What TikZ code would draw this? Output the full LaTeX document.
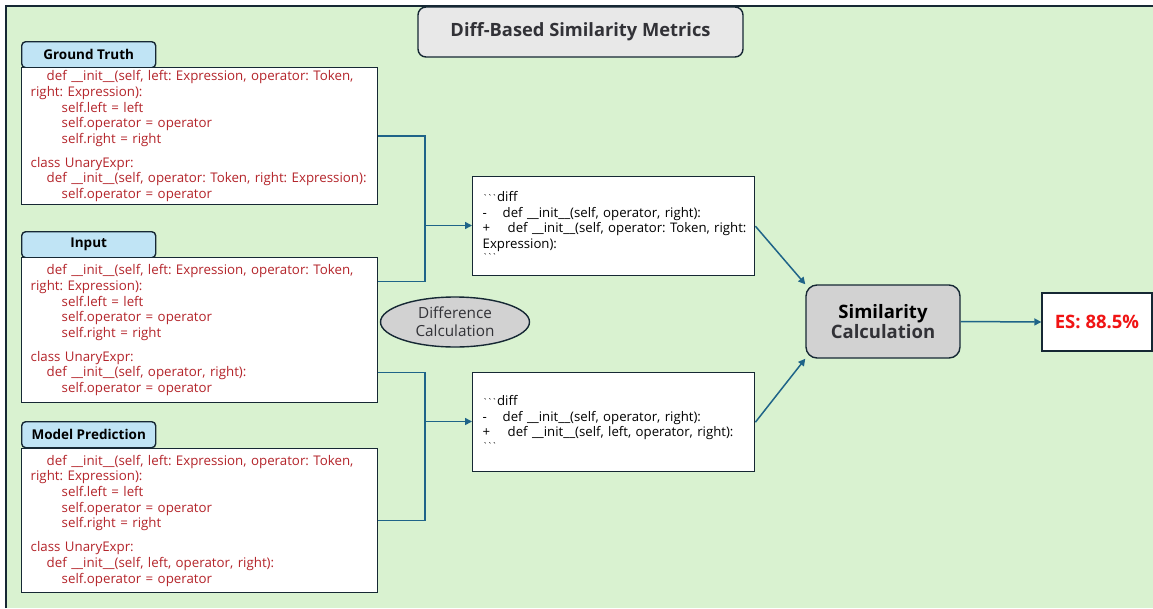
\documentclass[tikz,border=0pt]{standalone}
\usepackage{fontspec}
\setmainfont{Open Sans}
\usetikzlibrary{shapes.geometric,arrows.meta,calc}

\definecolor{bggreen}{RGB}{217,242,208}
\definecolor{edgedark}{RGB}{22,40,52}
\definecolor{tabblue}{RGB}{192,228,245}
\definecolor{codered}{RGB}{180,36,42}
\definecolor{linkblue}{RGB}{31,100,136}
\definecolor{titlegray}{RGB}{232,232,232}
\definecolor{procgray}{RGB}{210,210,210}
\definecolor{darktext}{RGB}{50,50,55}
\definecolor{esred}{RGB}{240,20,20}

\newcommand{\us}{\_\_}
\newcommand{\bt}{{\fontsize{9}{10}\selectfont\textasciigrave\kern-0.6pt\textasciigrave\kern-0.6pt\textasciigrave}}
\frenchspacing

\begin{document}
\begin{tikzpicture}[x=1pt,y=-1pt,
  frameline/.style={draw=edgedark,line width=1.4pt},
  titlebox/.style={draw=edgedark,line width=1.4pt,fill=titlegray,rounded corners=8pt,
    minimum width=325pt,minimum height=50pt,inner sep=0pt,
    font=\fontsize{18.3}{20}\selectfont\bfseries,text=darktext},
  tabbox/.style={draw=edgedark,line width=1.4pt,fill=tabblue,rounded corners=4pt,
    minimum width=134pt,minimum height=26pt,inner sep=0pt,anchor=north west,
    font=\fontsize{13.5}{15}\selectfont\bfseries,text=black},
  codebox/.style={draw=edgedark,line width=1.4pt,fill=white,anchor=north west,
    minimum width=356pt,inner xsep=9pt,inner ysep=0pt,text width=338pt,align=left,
    font=\fontsize{13.3}{15.6}\selectfont,text=codered},
  diffbox/.style={draw=edgedark,line width=1.4pt,fill=white,anchor=north west,
    minimum width=282pt,minimum height=99pt,inner xsep=10pt,inner ysep=0pt,
    text width=262pt,align=left,font=\fontsize{13.2}{15.5}\selectfont,text=black},
  procbox/.style={draw=edgedark,line width=1.4pt,fill=procgray,rounded corners=11pt,
    minimum width=154pt,minimum height=73pt,inner sep=0pt,align=center,
    font=\fontsize{18.5}{20.5}\selectfont\bfseries},
  diffcalc/.style={ellipse,draw=edgedark,line width=1.4pt,fill=procgray,
    minimum width=149pt,minimum height=50pt,inner sep=0pt,align=center,
    font=\fontsize{15.3}{18}\selectfont,text=darktext},
  resultbox/.style={draw=edgedark,line width=1.4pt,fill=white,
    minimum width=110pt,minimum height=58pt,inner sep=0pt,
    font=\fontsize{18.5}{20}\selectfont\bfseries,text=esred},
  link/.style={draw=linkblue,line width=1.5pt},
  linkarrow/.style={link,-{Triangle[length=7pt,width=7pt]}},
]
\useasboundingbox (0,0) rectangle (1153,608);

% canvas
\fill[bggreen] (6,6) rectangle (1153,608);
\draw[frameline] (6,608) -- (6,6) -- (1153,6);

% heading
\node[titlebox] (title) at (580.5,32) {Diff-Based Similarity Metrics};

% ground truth
\node[tabbox] (gttab) at (21,41) {Ground Truth};
\node[codebox,minimum height=137pt] (gt) at (21,67) {%
\hspace*{16pt}def \us init\us(self, left: Expression, operator: Token,\\
right: Expression):\\
\hspace*{31pt}self.left = left\\
\hspace*{31pt}self.operator = operator\\
\hspace*{31pt}self.right = right\\[8.5pt]
class UnaryExpr:\\
\hspace*{16pt}def \us init\us(self, operator: Token, right: Expression):\\
\hspace*{31pt}self.operator = operator};

% input
\node[tabbox] (intab) at (21,231) {Input};
\node[codebox,minimum height=145pt] (inp) at (21,257) {%
\hspace*{16pt}def \us init\us(self, left: Expression, operator: Token,\\
right: Expression):\\
\hspace*{31pt}self.left = left\\
\hspace*{31pt}self.operator = operator\\
\hspace*{31pt}self.right = right\\[8.5pt]
class UnaryExpr:\\
\hspace*{16pt}def \us init\us(self, operator, right):\\
\hspace*{31pt}self.operator = operator};

% model prediction
\node[tabbox] (mdtab) at (21,421) {Model Prediction};
\node[codebox,minimum height=144pt] (md) at (21,448) {%
\hspace*{16pt}def \us init\us(self, left: Expression, operator: Token,\\
right: Expression):\\
\hspace*{31pt}self.left = left\\
\hspace*{31pt}self.operator = operator\\
\hspace*{31pt}self.right = right\\[8.5pt]
class UnaryExpr:\\
\hspace*{16pt}def \us init\us(self, left, operator, right):\\
\hspace*{31pt}self.operator = operator};

% diffs
\node[diffbox] (d1) at (472,176) {%
\bt diff\\
\makebox[20pt][l]{-}def \us init\us(self, operator, right):\\
\mbox{\makebox[25pt][l]{+}def \us init\us(self, operator: Token, right:}\\
Expression):\\[-3pt]
\bt\\[8pt]};
\node[diffbox] (d2) at (472,372) {%
\bt diff\\
\makebox[20pt][l]{-}def \us init\us(self, operator, right):\\
\makebox[25pt][l]{+}def \us init\us(self, left, operator, right):\\[-3pt]
\bt\\[4pt]};

\node[diffcalc] (dc) at (455,322) {Difference\\Calculation};

\node[procbox] (sim) at (883,321.5) {Similarity\\{\color{darktext}Calculation}};
\node[resultbox] (es) at (1097,322) {ES: 88.5\%};

% junctions feeding the diff boxes
\coordinate (j1) at (425,225.5);
\coordinate (j2) at (425,421.5);
\coordinate (inA) at ($(inp.north east)!0.167!(inp.south east)$);
\coordinate (inB) at ($(inp.north east)!0.79!(inp.south east)$);

\draw[link] (gt.east) -| (j1);
\draw[link] (inA) -| (j1);
\draw[linkarrow] (j1) -- (j1 -| d1.west);
\draw[link] (inB) -| (j2);
\draw[link] (md.east) -| (j2);
\draw[linkarrow] (j2) -- (j2 -| d2.west);

\draw[linkarrow] (d1.east) -- (sim.north west);
\draw[linkarrow] (d2.east) -- (sim.south west);
\draw[linkarrow] (sim.east) -- (es.west);
\end{tikzpicture}
\end{document}
